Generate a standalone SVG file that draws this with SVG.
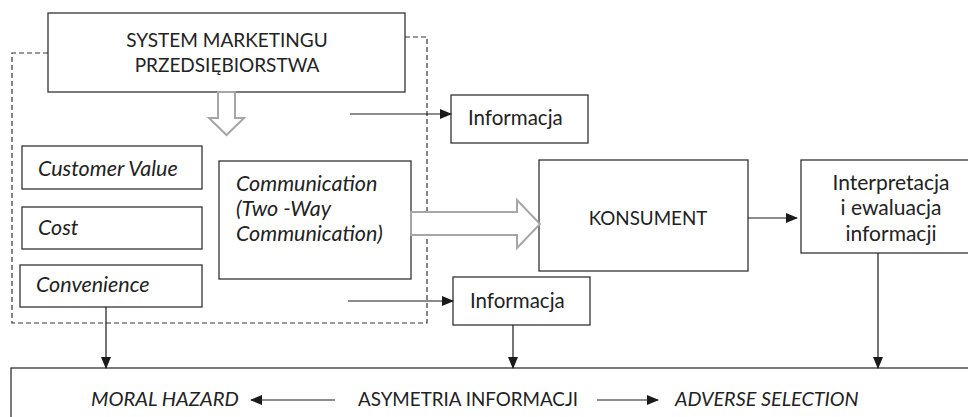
<svg xmlns="http://www.w3.org/2000/svg" width="968" height="417" viewBox="0 0 968 417">
<defs>
<marker id="ah" markerWidth="12" markerHeight="10" refX="11" refY="5" orient="auto" markerUnits="userSpaceOnUse">
<path d="M0,0 L12,5 L0,10 Z" fill="#1a1a1a"/>
</marker>
<style>
.box{fill:#fff;stroke:#333;stroke-width:1.3}
.t{font-family:Lato,"Open Sans",sans-serif;fill:#222;font-size:20.5px}
.it{font-style:italic;font-size:21.5px}
.c{text-anchor:middle}
.ln{stroke:#1a1a1a;stroke-width:1.2;fill:none}
.hol{fill:#fff;stroke:#a6a6a6;stroke-width:2}
.dash{fill:none;stroke:#333;stroke-width:1.2;stroke-dasharray:5 3}
</style>
</defs>
<rect width="968" height="417" fill="#fff"/>
<g id="boundary">
<path class="dash" d="M48,53 H12 V323 H427 V37 H405"/>
</g>
<g id="system">
<rect class="box" x="48" y="13" width="357" height="79"/>
<text class="t c" x="227" y="47" style="font-size:19px">SYSTEM MARKETINGU</text>
<text class="t c" x="227" y="72" style="font-size:19px">PRZEDSIĘBIORSTWA</text>
</g>
<g id="customer-value">
<rect class="box" x="22" y="146" width="180" height="43"/>
<text class="t it" x="38" y="176">Customer Value</text>
</g>
<g id="cost">
<rect class="box" x="22" y="207" width="180" height="42"/>
<text class="t it" x="38" y="235">Cost</text>
</g>
<g id="convenience">
<rect class="box" x="20" y="265" width="182" height="42"/>
<text class="t it" x="36" y="292">Convenience</text>
</g>
<g id="communication">
<rect class="box" x="219" y="161" width="192" height="118"/>
<text class="t it" x="236" y="191">Communication</text>
<text class="t it" x="236" y="216">(Two -Way</text>
<text class="t it" x="236" y="241">Communication)</text>
</g>
<g id="informacja-top">
<rect class="box" x="451" y="95" width="137" height="48"/>
<text class="t" x="468" y="125">Informacja</text>
</g>
<g id="informacja-bottom">
<rect class="box" x="453" y="277" width="137" height="48"/>
<text class="t" x="470" y="308">Informacja</text>
</g>
<g id="konsument">
<rect class="box" x="539" y="160" width="209" height="111"/>
<text class="t c" x="648" y="225" style="font-size:18.8px">KONSUMENT</text>
</g>
<g id="interpretacja">
<rect class="box" x="801" y="160" width="170" height="93"/>
<text class="t c" x="891" y="190" style="font-size:21px">Interpretacja</text>
<text class="t c" x="891" y="215" style="font-size:21px">i ewaluacja</text>
<text class="t c" x="891" y="241" style="font-size:21px">informacji</text>
</g>
<g id="asymetria">
<rect class="box" x="11" y="368" width="970" height="60"/>
<text class="t it" x="91" y="406" style="font-size:20.2px">MORAL HAZARD</text>
<text class="t" x="358" y="406" style="font-size:18.8px">ASYMETRIA INFORMACJI</text>
<text class="t it" x="675" y="406" style="font-size:19.8px">ADVERSE SELECTION</text>
</g>
<g id="connectors">
<polygon class="hol" points="218,92 235,92 235,118 244,118 226.5,135 209,118 218,118"/>
<polygon class="hol" points="411,212 517,212 517,200 540,224 517,248 517,235 411,235"/>
<line class="ln" x1="350" y1="114" x2="451" y2="114" marker-end="url(#ah)"/>
<line class="ln" x1="348" y1="301" x2="453" y2="301" marker-end="url(#ah)"/>
<line class="ln" x1="748" y1="218" x2="797" y2="218" marker-end="url(#ah)"/>
<line class="ln" x1="106" y1="307" x2="106" y2="368" marker-end="url(#ah)"/>
<line class="ln" x1="513" y1="325" x2="513" y2="368" marker-end="url(#ah)"/>
<line class="ln" x1="878" y1="253" x2="878" y2="368" marker-end="url(#ah)"/>
<line class="ln" x1="335" y1="400" x2="251" y2="400" marker-end="url(#ah)"/>
<line class="ln" x1="597" y1="400" x2="658" y2="400" marker-end="url(#ah)"/>
</g>
</svg>
